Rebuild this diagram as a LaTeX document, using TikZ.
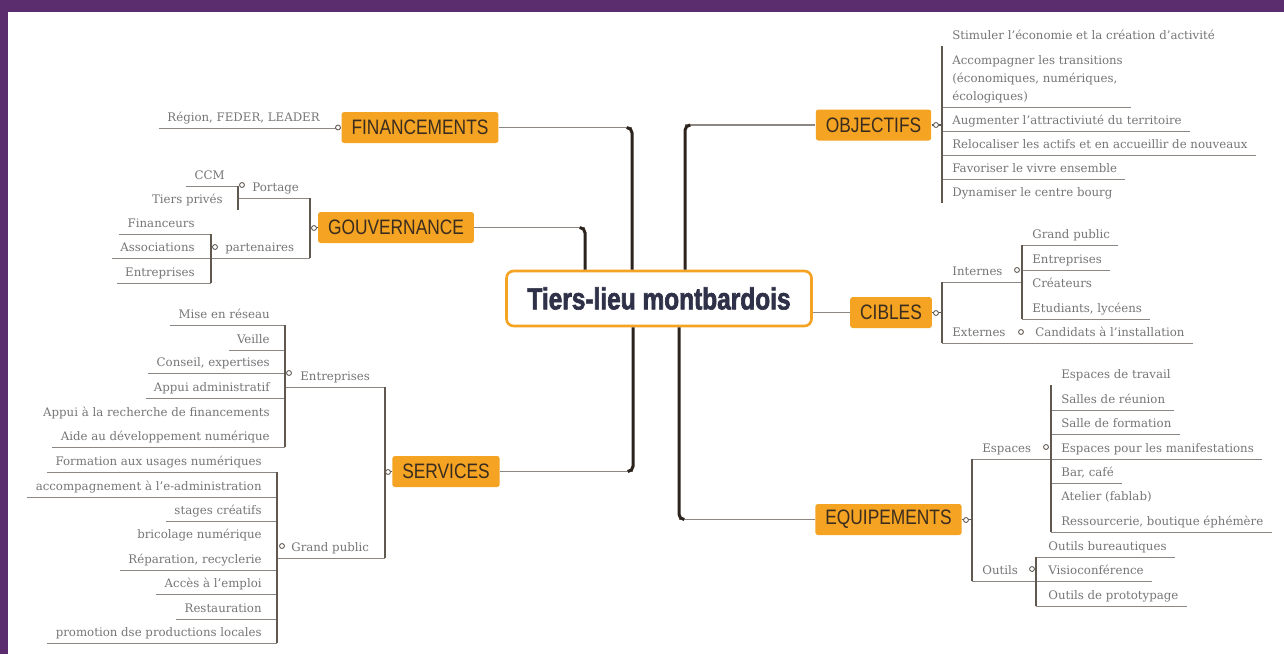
\documentclass[tikz,border=0pt]{standalone}
\usepackage{fontspec}
\setmainfont{DejaVu Serif}
\newfontfamily\topicfont[FakeStretch=0.83]{Liberation Sans}
\newfontfamily\hubfont[FakeStretch=0.8,FakeBold=2]{Liberation Sans Bold}
\usetikzlibrary{calc}

\definecolor{frame}{HTML}{5C2D6E}
\definecolor{topicfill}{HTML}{F4A323}
\definecolor{topictext}{HTML}{3A2C1E}
\definecolor{hubtext}{HTML}{2E3148}
\definecolor{leafgray}{HTML}{767676}
\definecolor{linegray}{HTML}{8C8782}
\definecolor{stemgray}{HTML}{615950}
\definecolor{trunkcol}{HTML}{2C241C}

\tikzset{
  hub/.style={draw=topicfill, line width=1.5pt, fill=white, rounded corners=4pt,
    minimum width=6.1cm, minimum height=1.1cm, text=hubtext,
    font=\hubfont\fontsize{17.4}{20}\selectfont},
  topic/.style={fill=topicfill, rounded corners=1.5pt, minimum height=0.62cm,
    inner xsep=0.2cm, text=topictext, font=\topicfont\fontsize{11.9}{14}\selectfont},
  note/.style={text=leafgray, font=\fontsize{6.7}{10}\selectfont,
    inner xsep=0.16cm, inner ysep=0.13cm},
  leaf/.style={note, text depth=0pt},
  uline/.style={draw=linegray, line width=0.55pt},
  vline/.style={draw=stemgray, line width=0.65pt},
  twig/.style={draw=linegray, line width=0.8pt},
  trunk/.style={draw=trunkcol, line width=1.7pt, rounded corners=3pt},
  knob/.style={draw=stemgray, fill=white, line width=0.5pt},
}

\begin{document}
\begin{tikzpicture}[x=0.02cm,y=-0.02cm]
\useasboundingbox (0,0) rectangle (1284,654);
\fill[white] (0,0) rectangle (1284,654);
\fill[frame] (0,0) rectangle (1284,12);
\fill[frame] (0,0) rectangle (8,654);

% centre and main topics
\node[hub] (hub) at (659,298.5) {Tiers-lieu montbardois};
\node[topic] (fin) at (420,127.5) {FINANCEMENTS};
\node[topic] (gov) at (396,227.5) {GOUVERNANCE};
\node[topic] (serv) at (446,471.5) {SERVICES};
\node[topic] (obj) at (873.5,125) {OBJECTIFS};
\node[topic] (cib) at (891,312.5) {CIBLES};
\node[topic] (equ) at (888.5,519.5) {EQUIPEMENTS};

% branches to the centre
\coordinate (fin-c) at (632,127.5);
\coordinate (gov-c) at (585,227.5);
\coordinate (serv-c) at (633,471.5);
\coordinate (obj-c) at (685,125);
\coordinate (equ-c) at (679,519.5);
\draw[twig] (fin.east) -- (fin-c);
\draw[trunk] ([xshift=-3pt]fin-c) -| (fin-c |- hub.north);
\draw[twig] (gov.east) -- (gov-c);
\draw[trunk] ([xshift=-3pt]gov-c) -| (gov-c |- hub.north);
\draw[twig] (serv.east) -- (serv-c);
\draw[trunk] ([xshift=-3pt]serv-c) -| (serv-c |- hub.south);
\draw[twig] (obj.west) -- (obj-c);
\draw[trunk] ([xshift=3pt]obj-c) -| (obj-c |- hub.north);
\draw[twig] (equ.west) -- (equ-c);
\draw[trunk] ([xshift=3pt]equ-c) -| (equ-c |- hub.south);
\draw[twig] (cib.west -| hub.east) -- (cib.west);

% FINANCEMENTS
\node[leaf, anchor=south east] (fin1) at (328,128) {Région, FEDER, LEADER};
\draw[uline] (fin1.south west) -- (fin1.south west -| fin.west);
\draw[knob] (338,127.5) circle (1.4pt);

% GOUVERNANCE
\coordinate (gov-v) at (310,0);
\coordinate (por-v) at (238,0);
\coordinate (par-v) at (211,0);
\node[leaf, anchor=south west] (por) at (244,198) {Portage};
\node[leaf, anchor=south west] (par) at (217,258) {partenaires};
\draw[uline] (por-v |- por.south) -- (gov-v |- por.south);
\draw[uline] (par-v |- par.south) -- (gov-v |- par.south);
\draw[vline] (gov-v |- por.south) -- (gov-v |- par.south);
\draw[vline] (gov.west) -- (gov-v |- gov.west);
\draw[knob] (314,228) circle (1.4pt);
\node[leaf, anchor=south east] (por1) at (233,186) {CCM};
\node[leaf, anchor=south east] (por2) at (231,210) {Tiers privés};
\draw[uline] (por1.south west) -- (por-v |- por1.south);
\draw[vline] (por-v |- por1.south) -- (por-v |- por2.south);
\draw[knob] (242,185) circle (1.4pt);
\foreach \i/\y/\txt in {1/234/Financeurs, 2/258/Associations, 3/283/Entreprises} {
  \node[leaf, anchor=south east] (par\i) at (203,\y) {\txt};
  \draw[uline] (par\i.south west) -- (par-v |- par\i.south);
}
\draw[vline] (par-v |- par1.south) -- (par-v |- par3.south);
\draw[knob] (215,247) circle (1.4pt);

% SERVICES
\coordinate (serv-v) at (385,0);
\coordinate (sent-v) at (285,0);
\coordinate (sgp-v) at (277,0);
\node[leaf, anchor=south west] (sent) at (292,387) {Entreprises};
\node[leaf, anchor=south west] (sgp) at (283,558) {Grand public};
\draw[uline] (sent-v |- sent.south) -- (serv-v |- sent.south);
\draw[uline] (sgp-v |- sgp.south) -- (serv-v |- sgp.south);
\draw[vline] (serv-v |- sent.south) -- (serv-v |- sgp.south);
\draw[vline] (serv.west) -- (serv-v |- serv.west);
\draw[knob] (388,472) circle (1.4pt);
\foreach \i/\y/\txt in {1/325/Mise en réseau, 2/350/Veille, 3/373/{Conseil, expertises},
    4/398/Appui administratif, 5/423/Appui à la recherche de financements,
    6/447/Aide au développement numérique}
  \node[leaf, anchor=south east] (sent\i) at (278,\y) {\txt};
\foreach \i in {1,2,3,4,6}
  \draw[uline] (sent\i.south west) -- (sent-v |- sent\i.south);
\draw[vline] (sent-v |- sent1.south) -- (sent-v |- sent6.south);
\draw[knob] (289,373) circle (1.4pt);
\foreach \i/\y/\txt in {1/472/Formation aux usages numériques,
    2/497/accompagnement à l'e-administration, 3/521/stages créatifs,
    4/545/bricolage numérique, 5/570/{Réparation, recyclerie}, 6/594/Accès à l'emploi,
    7/619/Restauration, 8/643/promotion dse productions locales}
  \node[leaf, anchor=south east] (sgp\i) at (270,\y) {\txt};
\foreach \i in {1,2,3,5,6,7,8}
  \draw[uline] (sgp\i.south west) -- (sgp-v |- sgp\i.south);
\draw[vline] (sgp-v |- sgp1.south) -- (sgp-v |- sgp8.south);
\draw[knob] (282,546) circle (1.4pt);

% OBJECTIFS
\coordinate (obj-v) at (942,0);
\node[leaf, anchor=south west] (obj1) at (944,46) {Stimuler l'économie et la création d'activité};
\node[note, anchor=south west, align=left, inner ysep=0.08cm] (obj2) at (944,107)
  {Accompagner les transitions\\(économiques, numériques,\\écologiques)};
\foreach \i/\y/\txt in {3/131/Augmenter l'attractiviuté du territoire,
    4/155/Relocaliser les actifs et en accueillir de nouveaux,
    5/179/Favoriser le vivre ensemble, 6/203/Dynamiser le centre bourg}
  \node[leaf, anchor=south west] (obj\i) at (944,\y) {\txt};
\foreach \i in {2,3,4,5}
  \draw[uline] (obj-v |- obj\i.south) -- (obj\i.south east);
\draw[vline] (obj-v |- obj1.south) -- (obj-v |- obj6.south);
\draw[vline] (obj.east) -- (obj-v |- obj.east);
\draw[knob] (936,125) circle (1.4pt);

% CIBLES
\coordinate (cib-v) at (942,0);
\coordinate (int-v) at (1022,0);
\node[leaf, anchor=south west] (int) at (944,282) {Internes};
\node[leaf, anchor=south west] (ext) at (944,343) {Externes};
\node[leaf, anchor=south west] (ext1) at (1027,343) {Candidats à l'installation};
\draw[uline] (cib-v |- int.south) -- (int-v |- int.south);
\draw[uline] (cib-v |- ext.south) -- (ext1.south east);
\draw[vline] (cib-v |- int.south) -- (cib-v |- ext.south);
\draw[vline] (cib.east) -- (cib-v |- cib.east);
\draw[knob] (936,313) circle (1.4pt);
\foreach \i/\y/\txt in {1/245/Grand public, 2/270/Entreprises, 3/294/Créateurs,
    4/319/{Etudiants, lycéens}}
  \node[leaf, anchor=south west] (int\i) at (1024,\y) {\txt};
\foreach \i in {1,2,4}
  \draw[uline] (int-v |- int\i.south) -- (int\i.south east);
\draw[vline] (int-v |- int1.south) -- (int-v |- int4.south);
\draw[knob] (1017,270) circle (1.4pt);
\draw[knob] (1021,332) circle (1.4pt);

% EQUIPEMENTS
\coordinate (equ-v) at (972,0);
\coordinate (esp-v) at (1051,0);
\coordinate (out-v) at (1036,0);
\node[leaf, anchor=south west] (esp) at (974,459) {Espaces};
\node[leaf, anchor=south west] (out) at (974,581) {Outils};
\draw[uline] (equ-v |- esp.south) -- (esp-v |- esp.south);
\draw[uline] (equ-v |- out.south) -- (out-v |- out.south);
\draw[vline] (equ-v |- esp.south) -- (equ-v |- out.south);
\draw[vline] (equ.east) -- (equ-v |- equ.east);
\draw[knob] (966,520) circle (1.4pt);
\foreach \i/\y/\txt in {1/385/Espaces de travail, 2/410/Salles de réunion,
    3/434/Salle de formation, 4/459/Espaces pour les manifestations, 5/483/{Bar, café},
    6/507/Atelier (fablab), 7/532/{Ressourcerie, boutique éphémère}}
  \node[leaf, anchor=south west] (esp\i) at (1053,\y) {\txt};
\foreach \i in {2,3,4,5,7}
  \draw[uline] (esp-v |- esp\i.south) -- (esp\i.south east);
\draw[vline] (esp-v |- esp1.south) -- (esp-v |- esp7.south);
\draw[knob] (1046,447) circle (1.4pt);
\foreach \i/\y/\txt in {1/557/Outils bureautiques, 2/581/Visioconférence,
    3/606/Outils de prototypage}
  \node[leaf, anchor=south west] (out\i) at (1040,\y) {\txt};
\foreach \i in {1,2,3}
  \draw[uline] (out-v |- out\i.south) -- (out\i.south east);
\draw[vline] (out-v |- out1.south) -- (out-v |- out3.south);
\draw[knob] (1032,569) circle (1.4pt);
\end{tikzpicture}
\end{document}
